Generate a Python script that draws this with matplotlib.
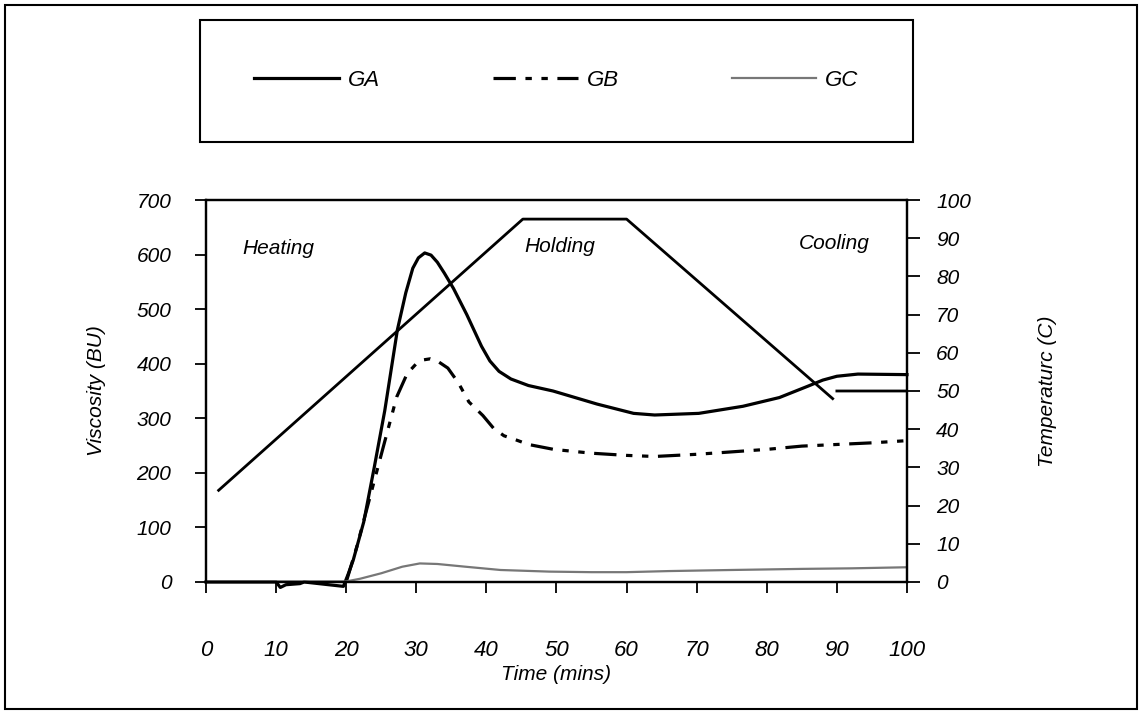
import numpy as np
import matplotlib.pyplot as plt
from matplotlib.patches import Rectangle

plt.rcParams['font.family'] = ['Liberation Sans', 'DejaVu Sans']
plt.rcParams['font.style'] = 'italic'

# viscosity curves (BU) against time (mins)
ga_t = [0, 10, 10.6, 11.4, 13.4, 14, 19.6, 20.3, 21, 22.5, 24, 25.5, 27.3, 28.5, 29.5, 30.3, 31.2, 32.1,
	33, 34, 35.3, 37.2, 39.3, 40.5, 41.8, 43.5, 46, 49.5, 55.8, 61, 64, 70.3, 76.6, 81.8, 85.9, 88, 90, 93, 100]
ga_v = [0, 0, -10, -5, -3, 0, -8, 15, 40, 110, 210, 314, 462, 530, 575, 594, 603, 599,
	586, 566, 538, 490, 432, 405, 386, 372, 360, 350, 326, 309, 306, 309, 322, 338, 359, 370, 377, 381, 380]

gb_t = [20, 21.5, 23.4, 25.3, 27.2, 28.7, 30, 31, 32, 33, 34.5, 36, 37.5, 39.5, 41, 42.5, 44.3,
	46, 49.6, 55, 60, 64, 70, 74.5, 80, 85, 90, 95, 100]
gb_v = [0, 64, 156, 248, 339, 382, 400, 407, 409, 405, 392, 365, 330, 305, 282, 268, 260,
	252, 243, 236, 232, 230, 234, 238, 243, 249, 252, 255, 259]

gc_t = [0, 20, 22, 25, 28, 30.5, 33, 37, 42, 49, 55, 60, 66, 75, 85, 92, 100]
gc_v = [1, 1, 6, 16, 28, 34, 33, 28, 22, 19, 18, 18, 20, 22, 24, 25, 27]

# temperature programme (C), second piece is the separate flat end line
temp_t = [1.8, 45.2, 60, 89.4, np.nan, 90, 100]
temp_c = [24, 95, 95, 48, np.nan, 50, 50]

x_ticks = [0, 10, 20, 30, 40, 50, 60, 70, 80, 90, 100]
visc_ticks = [0, 100, 200, 300, 400, 500, 600, 700]
temp_ticks = [0, 10, 20, 30, 40, 50, 60, 70, 80, 90, 100]

fig = plt.figure(figsize=(11.42, 7.12), dpi=100)
ax = fig.add_axes([0.1804, 0.1826, 0.6138, 0.5365])
ax2 = ax.twinx()

l1, = ax.plot(ga_t, ga_v, color='black', lw=2.3, clip_on=False, label='GA')
l2, = ax.plot(gb_t, gb_v, color='black', lw=2.3, dashes=(7, 3, 2, 3, 2, 3), label='GB')
l3, = ax.plot(gc_t, gc_v, color='#777777', lw=1.6, label='GC')
ax2.plot(temp_t, temp_c, color='black', lw=2.0)

ax.set_xlim(0, 100)
ax.set_ylim(0, 700)
ax2.set_ylim(0, 100)
ax.set_xticks(x_ticks)
ax.set_yticks(visc_ticks)
ax2.set_yticks(temp_ticks)

for a in (ax, ax2):
	for s in a.spines.values():
		s.set_linewidth(1.6)

ax.tick_params(axis='x', direction='out', length=8, width=1.3, pad=34, labelsize=16)
ax.tick_params(axis='y', direction='out', length=8, width=1.3, pad=17, labelsize=15)
ax2.tick_params(axis='y', direction='out', length=9, width=1.3, pad=12, labelsize=15)

ax.set_xlabel('Time (mins)', fontsize=15, labelpad=3)
ax.set_ylabel('Viscosity (BU)', fontsize=15, labelpad=22)
ax2.set_ylabel('Temperaturc (C)', fontsize=15, labelpad=48)

ax.text(10.3, 612, 'Heating', fontsize=15, ha='center', va='center')
ax.text(50.4, 614, 'Holding', fontsize=15, ha='center', va='center')
ax.text(89.7, 621, 'Cooling', fontsize=15, ha='center', va='center')

# legend in its own box above the plot
fig.patches.append(Rectangle((0.1751, 0.8006), 0.6243, 0.1713, transform=fig.transFigure,
	fill=False, edgecolor='black', lw=1.5))
fig.legend(handles=[l1, l2, l3], loc='center', bbox_to_anchor=(0.4873, 0.887), ncol=3,
	frameon=False, fontsize=16, handlelength=3.8, handletextpad=0.4, columnspacing=5.1)

# outer frame
fig.patches.append(Rectangle((0.0044, 0.0042), 0.9912, 0.9888, transform=fig.transFigure,
	fill=False, edgecolor='black', lw=1.5))

plt.savefig('out.png', dpi=100)
